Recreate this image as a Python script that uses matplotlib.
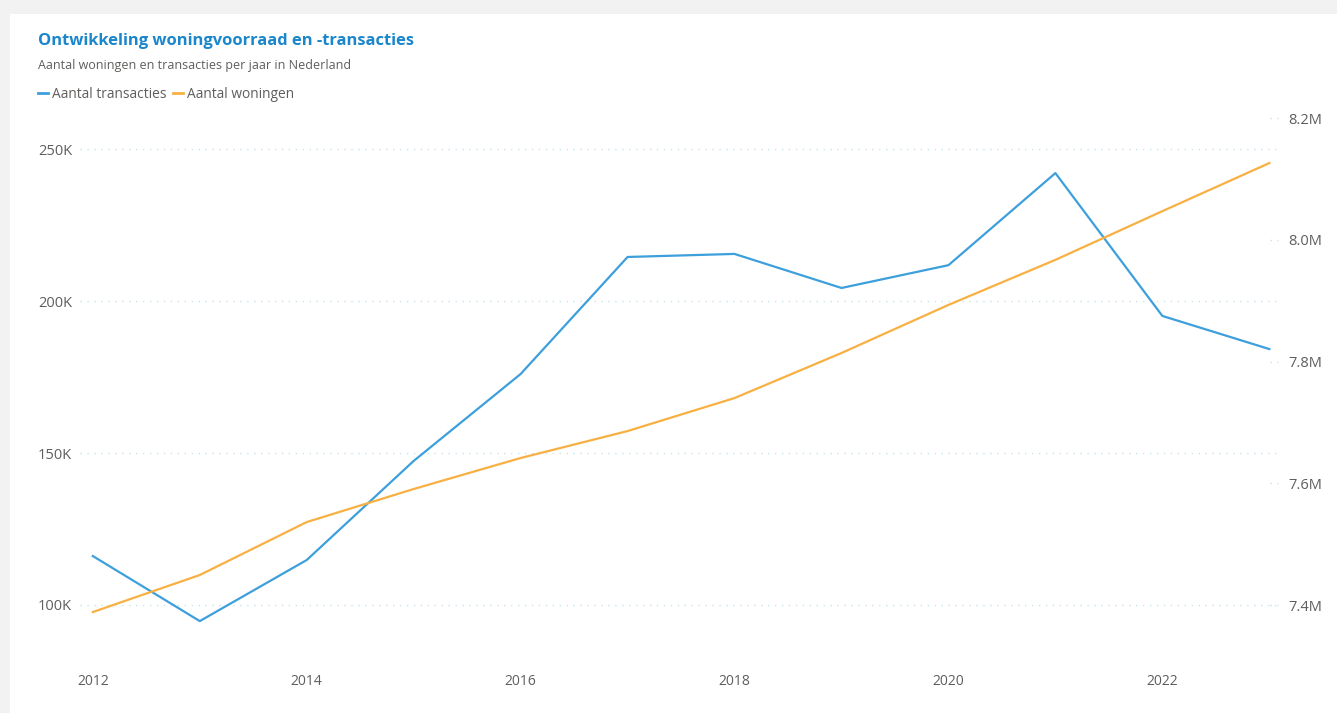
import matplotlib
matplotlib.use("Agg")
import matplotlib.pyplot as plt
from matplotlib.patches import Rectangle
from matplotlib.lines import Line2D
from matplotlib.ticker import FuncFormatter

years = [2012, 2013, 2014, 2015, 2016, 2017, 2018, 2019, 2020, 2021, 2022, 2023]
transacties = [116100, 94700, 114800, 147400, 176000, 214500, 215500, 204300, 211800, 242100, 195100, 184200]
woningen = [7388500, 7449300, 7536300, 7590600, 7641500, 7685800, 7740000, 7814000, 7893000, 7967000, 8047000, 8126000]
left_ticks = [100000, 150000, 200000, 250000]
right_ticks = [7400000, 7600000, 7800000, 8000000, 8200000]
x_ticks = [2012, 2014, 2016, 2018, 2020, 2022]

W, H = 1337, 713
fig = plt.figure(figsize=(W / 100, H / 100), dpi=100)
fig.patch.set_facecolor("#f2f2f2")
card = Rectangle((10 / W, 0), 1, 1 - 14 / H, transform=fig.transFigure,
                 facecolor="white", edgecolor="none", zorder=-5)
fig.patches.append(card)

font = "Open Sans"
txtc = "#605e5c"
blue = "#3d9fdc"
orange = "#f8b042"
gridc = "#c9e2ee"

ax = fig.add_axes([80 / W, 1 - 660 / H, 1200 / W, 555 / H])
ax.set_facecolor("none")
ax2 = ax.twinx()
ax2.set_facecolor("none")

ax.plot(years, transacties, color=blue, lw=1.6, zorder=3)
ax2.plot(years, woningen, color=orange, lw=1.6, zorder=3)

ax.set_xlim(2011.88, 2023.1)
ax.set_ylim(81900, 264500)
ax2.set_ylim(7309700, 8221400)

ax.set_xticks(x_ticks)
ax.set_xticklabels([str(x) for x in x_ticks])
ax.set_yticks(left_ticks)
ax.yaxis.set_major_formatter(FuncFormatter(lambda v, p: f"{int(v/1000)}K"))
ax2.set_yticks(right_ticks)
ax2.yaxis.set_major_formatter(FuncFormatter(lambda v, p: f"{v/1e6:.1f}M"))

ax.grid(axis="y", color=gridc, linestyle=(0, (1, 4)), lw=1)
# short dotted tick marks for the secondary axis
for v in right_ticks:
    ax2.plot([0.9915, 0.998], [v, v], transform=ax2.get_yaxis_transform(),
             color=gridc, linestyle=(0, (1, 4)), lw=1, clip_on=False)
for a in (ax, ax2):
    for s in a.spines.values():
        s.set_visible(False)
ax.tick_params(axis="both", length=0, colors=txtc, labelsize=10)
ax.tick_params(axis="x", pad=9.8)
ax.tick_params(axis="y", pad=5.8, labelsize=10.5)
ax2.tick_params(axis="y", length=0, colors=txtc, labelsize=10.5, pad=5.8)
for a in (ax, ax2):
    for lab in a.get_xticklabels() + a.get_yticklabels():
        lab.set_fontfamily(font)
        lab.set_color(txtc)

fig.text(38 / W, 1 - 41 / H, "Ontwikkeling woningvoorraad en -transacties",
         fontfamily=font, fontweight="bold", fontsize=11.85, color="#1a86cc", va="center")
fig.text(38 / W, 1 - 66 / H, "Aantal woningen en transacties per jaar in Nederland",
         fontfamily=font, fontsize=9, color=txtc, va="center")

handles = [Line2D([], [], color=blue, lw=2), Line2D([], [], color=orange, lw=2)]
leg = fig.legend(handles, ["Aantal transacties", "Aantal woningen"], loc="center left",
                 bbox_to_anchor=(38 / W, 1 - 94 / H), ncol=2, frameon=False, borderpad=0,
                 borderaxespad=0,
                 handlelength=0.72, handletextpad=0.29, columnspacing=0.5,
                 prop={"family": font, "size": 9.9})
for t in leg.get_texts():
    t.set_color(txtc)

fig.savefig("out.png", dpi=100, facecolor=fig.get_facecolor())
